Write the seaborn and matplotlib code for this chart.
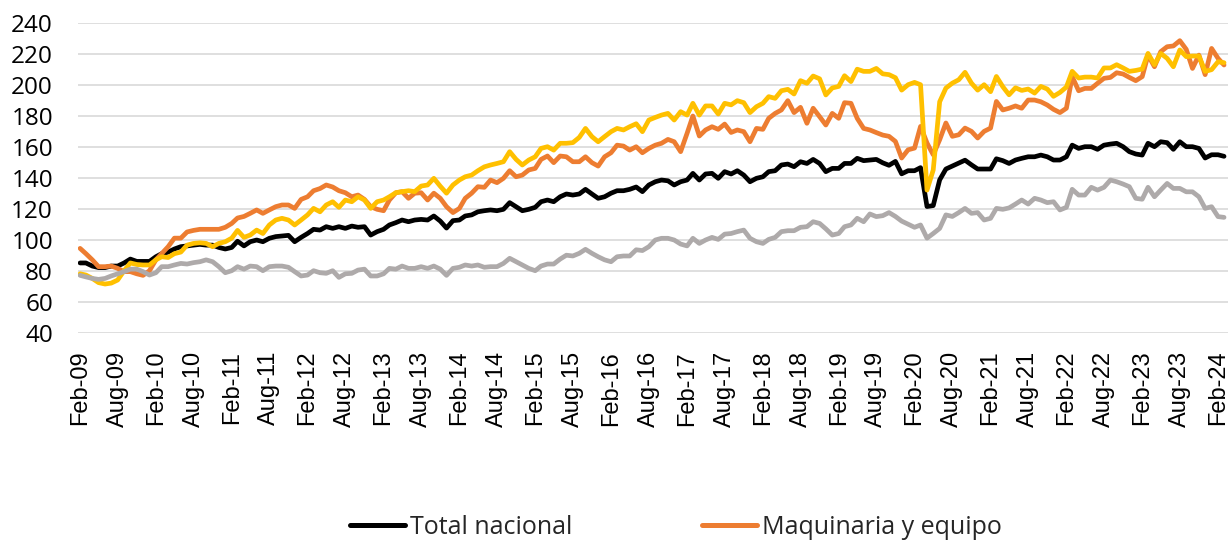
import numpy as np
import pandas as pd
import matplotlib
matplotlib.use("Agg")
import matplotlib.pyplot as plt
import seaborn as sns
from matplotlib.lines import Line2D

# Monthly index, Feb-09 .. Mar-24
months = pd.date_range("2009-02-01", periods=182, freq="MS")

total_nacional = [
    85, 85, 83, 82, 82, 83, 83, 85, 87.5, 86, 86, 86,
    89, 91, 92, 94, 95.5, 96, 96.5, 97, 96.5, 96.5, 95, 94,
    95, 99, 96, 98.7, 99.8, 98.7, 100.9, 102, 102.4, 102.8, 98.7, 101.5,
    104, 106.7, 106.2, 108.4, 107.3, 108.4, 107.3, 108.8, 108, 108.4, 103, 105.2,
    106.7, 109.5, 111, 112.7, 111.6, 112.7, 113.1, 112.7, 115.3, 112, 107.5, 112.3,
    112.7, 115.3, 116, 118, 118.7, 119.2, 118.7, 119.6, 123.9, 121.3, 118.7, 119.6,
    120.9, 124.5, 125.6, 124.5, 127.7, 129.5, 128.8, 129.5, 132.5, 129.5, 126.7, 127.7,
    130, 131.6, 131.6, 132.5, 134, 131, 135.3, 137.4, 138.5, 138, 135.3, 137.4,
    138.5, 142.8, 138.5, 142.4, 142.8, 139.6, 143.9, 142.4, 144.5, 141.7, 137.4, 139.6,
    140.6, 143.9, 144.5, 148.2, 148.8, 147.1, 150.3, 149.2, 151.8, 149.2, 143.9, 146,
    146, 149.2, 149.2, 152.5, 151, 151.4, 151.8, 149.6, 148, 150.5, 142.5, 144.5,
    144.5, 146.5, 121.4, 122, 138.6, 145.6, 147.5, 149.4, 151.3, 148.3, 145.6, 145.6,
    145.6, 152.2, 151, 149.2, 151.4, 152.5, 153.5, 153.5, 154.6, 153.5, 151.4, 151.4,
    153.5, 161, 158.9, 160, 160, 158.3, 161, 161.7, 162.2, 160, 156.8, 155.3,
    154.6, 162.2, 160, 163.2, 162.6, 158.3, 163.2, 160, 160, 158.9, 152.7, 154.8,
    154.8, 153.8,
]

maquinaria_equipo = [
    94.4, 91, 87, 82.6, 82.6, 83, 81.5, 79.4, 79.4, 78, 77, 80,
    87, 91, 95.5, 101, 101, 105, 106, 106.7, 106.7, 106.7, 106.7, 108,
    110.5, 114, 115, 117, 119.2, 117, 119.2, 121.3, 122.4, 122.4, 120.2, 126,
    127.7, 131.6, 133, 135.3, 134, 131.6, 130.3, 127.7, 128.8, 126, 121.3, 119.6,
    118.7, 125.6, 130.3, 131, 126.7, 130, 130.3, 125.6, 130, 126.7, 121.3, 117.5,
    120.2, 126.7, 130, 134.2, 133.8, 138.5, 136.8, 139.6, 144.5, 140.6, 141.7, 145,
    146, 151.8, 154, 149.7, 154, 153.5, 150.3, 150.3, 153.5, 149.7, 147.5, 153.5,
    156.1, 161, 160.4, 157.8, 160, 156.1, 158.9, 161, 162.2, 164.7, 163.2, 156.8,
    168.6, 179.8, 166.9, 170.8, 172.9, 171.2, 174.6, 169.2, 170.8, 169.7, 163.2, 171.8,
    171.2, 178.3, 181.5, 183.7, 189.7, 182, 185.4, 175.1, 184.8, 179.4, 174, 181.5,
    178.3, 188.4, 188, 178.3, 171.8, 170.8, 169.1, 167.5, 166.7, 163.4, 152.7, 158,
    159.1, 173.1, 162.4, 154.8, 164.5, 175.3, 166.7, 167.7, 172, 169.9, 165.6, 169.9,
    172, 189.2, 183.7, 184.8, 186.3, 184.8, 190.1, 190.1, 189, 186.9, 184.1, 182,
    184.8, 205.2, 196.1, 197.6, 197.6, 200.9, 204.1, 204.7, 207.7, 206.9, 204.7, 202.6,
    205.2, 219.1, 211.6, 221.3, 224.5, 225, 228.4, 222.8, 210.5, 219.1, 206.5, 223.4,
    217, 212.7,
]

equipo_transporte = [
    78, 77.2, 75, 72.3, 71.4, 72, 74, 80, 85, 84, 83.7, 83.7,
    87, 89, 88.5, 91, 92, 96.5, 97.6, 98, 97.6, 95.5, 97.6, 98.7,
    101, 106, 101.5, 103, 106.2, 104, 109.5, 112.7, 113.8, 112.7, 109.5, 112.7,
    116, 120.2, 118, 122.4, 124.5, 120.9, 125.6, 124.5, 127.7, 125.6, 120.2, 124.5,
    125.6, 127.7, 130.3, 131, 131.6, 131, 134.6, 135.3, 139.6, 134.5, 130, 135.3,
    138.5, 140.6, 141.7, 144.5, 147, 148.2, 149.2, 150.3, 156.8, 151.8, 148.2, 151.4,
    153.5, 158.9, 160, 157.8, 162.2, 162.2, 162.6, 166, 171.8, 166.5, 163.2, 166.5,
    169.7, 171.8, 170.8, 172.9, 174.8, 169.7, 177.2, 178.9, 180.4, 181.5, 177.2, 182.6,
    180.4, 188, 180.4, 186.3, 186.3, 181.1, 188, 187, 189.7, 188.4, 182, 185.8,
    188, 192.3, 191.2, 196.1, 197, 194, 202.6, 200.9, 205.6, 203.8, 193.4, 197.9,
    198.9, 205.8, 202, 210, 208.6, 208.6, 210.5, 207, 206.5, 204.5, 196.5, 200,
    201.5, 200, 132, 145, 189, 197.8, 201, 203.2, 208, 201, 196.5, 200,
    195.5, 205.3, 198.7, 193.5, 198, 196.3, 197.2, 194.6, 198.9, 197.2, 192.5, 195,
    198.5, 208.6, 204.3, 204.9, 204.9, 204.3, 210.8, 210.8, 212.9, 210.8, 208.6, 209.2,
    210.1, 220.2, 212.9, 220.2, 217, 211.6, 222.4, 218.1, 218.5, 218.5, 208.6, 209.7,
    214.8, 214.2,
]

construccion = [
    77, 76, 75, 74.4, 75, 76.6, 78, 79.4, 81, 81, 79.4, 77.2,
    78.7, 82.6, 82.6, 83.7, 84.7, 84.3, 85.2, 85.8, 87, 85.8, 82.6, 78.7,
    80, 82.6, 81, 83, 82.6, 80, 82.6, 83, 83, 82.2, 79.4, 76.6,
    77.2, 80, 78.7, 78.3, 80, 75.7, 78, 78.3, 80.4, 81, 76.6, 76.6,
    78, 81.5, 81, 83, 81.5, 81.5, 82.6, 81.5, 83, 81, 77, 81.5,
    82.2, 83.7, 83, 83.7, 82.2, 82.6, 82.6, 84.7, 88, 85.8, 83.7, 81.5,
    80, 83, 84.3, 84.3, 87.5, 90, 89.5, 91.2, 93.8, 91.2, 89, 87,
    85.8, 89, 89.5, 89.5, 93.5, 93, 95.5, 99.8, 100.9, 100.9, 99.8, 97.2,
    96, 100.9, 97.6, 99.8, 101.5, 100.2, 103.6, 104, 105.2, 106.2, 100.9, 98.7,
    97.6, 100.2, 101.5, 105.2, 105.8, 105.8, 108, 108.4, 111.6, 110.5, 107, 103,
    104, 108.4, 109.5, 113.8, 111.6, 116.6, 114.9, 115.5, 117.5, 115, 112, 110,
    108, 109.5, 101, 104, 107.3, 116, 115, 117.5, 120.2, 117, 117.5, 112.7,
    113.8, 120.2, 119.6, 120.5, 123, 125.6, 123, 126.7, 125.6, 123.9, 124.5, 119.2,
    120.9, 132.5, 128.8, 128.8, 133.8, 132, 133.8, 138.5, 137.4, 135.9, 134.2, 126.7,
    126.1, 133.8, 127.7, 132, 136.3, 133.1, 133.1, 130.9, 130.9, 127.7, 120.2, 121.3,
    114.9, 114.4,
]

series_names = ["Total nacional", "Maquinaria y equipo", "Equipo de transporte", "Construcción"]
series_colors = ["#000000", "#ED7D31", "#FFC000", "#AEAAAA"]

df = pd.DataFrame({
    "fecha": months,
    series_names[0]: total_nacional,
    series_names[1]: maquinaria_equipo,
    series_names[2]: equipo_transporte,
    series_names[3]: construccion,
}).melt(id_vars="fecha", var_name="serie", value_name="indice")

sns.set_theme(style="white")

fig = plt.figure(figsize=(12.28, 5.40), dpi=100)
ax = fig.add_axes([78 / 1228, (540 - 332.7) / 540, 1 - 78 / 1228, 310 / 540])

sns.lineplot(data=df, x="fecha", y="indice", hue="serie", hue_order=series_names,
             palette=dict(zip(series_names, series_colors)), linewidth=3.4,
             legend=False, ax=ax)

# axes
ax.set_ylim(40, 240)
ax.set_yticks(range(40, 241, 20))
ax.set_xlim(months[0] - pd.Timedelta(days=10), months[-1] + pd.Timedelta(days=19))
ticks = pd.date_range("2009-02-01", "2024-02-01", freq="6MS")
ax.set_xticks(ticks)
ax.set_xticklabels([t.strftime("%b-%y") for t in ticks], rotation=90,
                   family="Liberation Sans", fontsize=17)
for lbl in ax.get_yticklabels():
    lbl.set_family("Open Sans")
    lbl.set_fontsize(17.5)
ax.tick_params(axis="both", length=0, colors="#000000")
ax.tick_params(axis="y", pad=18)
ax.tick_params(axis="x", pad=13)
ax.yaxis.grid(True, color="#D9D9D9", linewidth=1.2)
ax.set_axisbelow(True)
ax.set_xlabel("")
ax.set_ylabel("")
for s in ax.spines.values():
    s.set_visible(False)

# legend (only the first row is visible in the cropped picture)
handles = [Line2D([], [], color=c, linewidth=3.6) for c in series_colors[:2]]
fig.legend(handles, series_names[:2], loc="center left",
           bbox_to_anchor=(350 / 1228, 1 - 527 / 540), ncol=2, frameon=False,
           prop={"family": "Open Sans", "size": 18},
           handlelength=2.2, handletextpad=0.2, columnspacing=5.2,
           borderpad=0, borderaxespad=0)

fig.savefig("out.png", dpi=100)
